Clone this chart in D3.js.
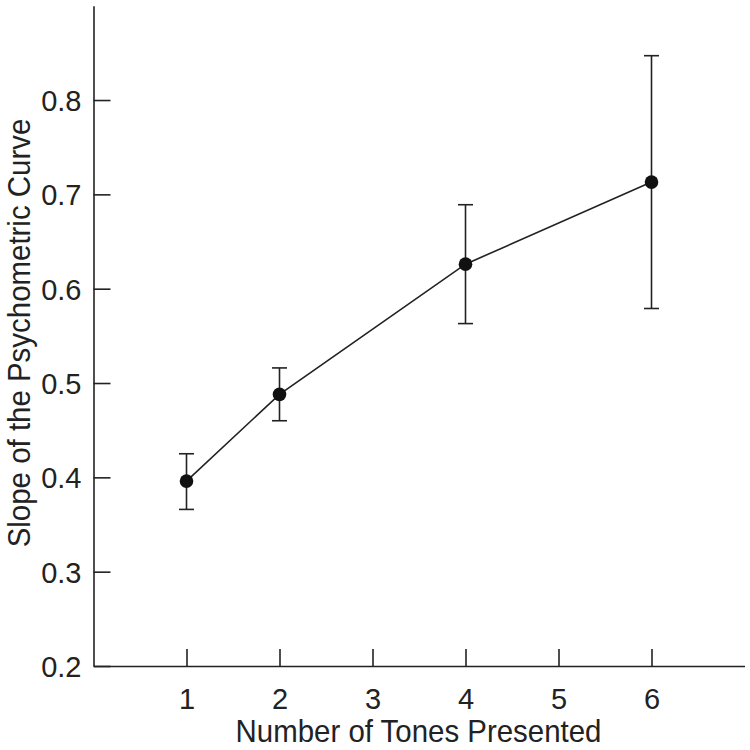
<!DOCTYPE html>
<html><head><meta charset="utf-8">
<script src="https://cdn.jsdelivr.net/npm/d3@7"></script>
<style>body{margin:0;background:#fff}svg text{font-family:"Liberation Sans Narrow","Liberation Sans",Arial,sans-serif;fill:#222}</style>
</head><body><svg id="c" width="750" height="750"></svg>
<script>
const tones = [1, 2, 4, 6];
const slopes = [0.396, 0.488, 0.626, 0.713];
const errLow = [0.366, 0.460, 0.563, 0.579];
const errHigh = [0.425, 0.516, 0.689, 0.847];
const xTicks = [1, 2, 3, 4, 5, 6];
const yTicks = [0.2, 0.3, 0.4, 0.5, 0.6, 0.7, 0.8];
const xLabel = "Number of Tones Presented";
const yLabel = "Slope of the Psychometric Curve";

const svg = d3.select("#c");
const ink = "#222";
const x = d3.scaleLinear().domain([0, 7]).range([93.5, 744.5]);
const y = d3.scaleLinear().domain([0.2, 0.9]).range([666, 5.7]);

const xAxis = svg.append("g").attr("transform", `translate(0,${y(0.2)})`)
  .call(d3.axisBottom(x).tickValues(xTicks).tickSize(-17).tickPadding(22).tickFormat(d3.format("d")).tickSizeOuter(0));
const yAxis = svg.append("g").attr("transform", `translate(${x(0)},0)`)
  .call(d3.axisLeft(y).tickValues(yTicks).tickSize(-17).tickPadding(12).tickFormat(d3.format(".1f")).tickSizeOuter(0));
[xAxis, yAxis].forEach(g => {
  g.select(".domain").attr("stroke", ink).attr("stroke-width", 1.6);
  g.selectAll(".tick line").attr("stroke", ink).attr("stroke-width", 1.6);
  g.selectAll(".tick text").attr("font-size", 29).attr("fill", ink).attr("font-family", null);
});
yAxis.selectAll(".tick text").attr("dy", "0.36em");

const data = tones.map((t, i) => ({t, v: slopes[i], lo: errLow[i], hi: errHigh[i]}));

svg.append("path").datum(data)
  .attr("d", d3.line().x(d => x(d.t)).y(d => y(d.v)))
  .attr("fill", "none").attr("stroke", ink).attr("stroke-width", 1.6);

const eb = svg.append("g").attr("stroke", ink).attr("stroke-width", 1.6);
data.forEach(d => {
  eb.append("line").attr("x1", x(d.t)).attr("x2", x(d.t)).attr("y1", y(d.lo)).attr("y2", y(d.hi));
  [d.lo, d.hi].forEach(v => eb.append("line").attr("x1", x(d.t) - 7.5).attr("x2", x(d.t) + 7.5).attr("y1", y(v)).attr("y2", y(v)));
});

svg.append("g").selectAll("circle").data(data).join("circle")
  .attr("cx", d => x(d.t)).attr("cy", d => y(d.v)).attr("r", 6.8).attr("fill", "#111");

svg.append("text").attr("transform", `translate(${(x(1) + x(6)) / 2 - 0.5},742) scale(0.95,1)`).attr("text-anchor", "middle")
  .attr("font-size", 31).text(xLabel);
svg.append("text").attr("transform", `translate(30,333) rotate(-90) scale(0.95,1)`).attr("text-anchor", "middle")
  .attr("font-size", 31).text(yLabel);
</script></body></html>
